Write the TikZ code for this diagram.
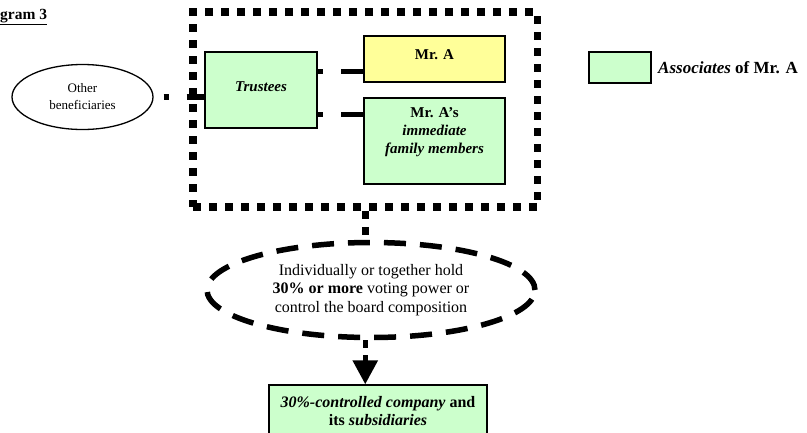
\documentclass[tikz,border=0pt]{standalone}
\usepackage{fontspec}
\setmainfont{Liberation Serif}
\usetikzlibrary{arrows.meta,shapes.geometric}
\definecolor{assocgreen}{HTML}{CCFFCC}
\definecolor{mrayellow}{HTML}{FFFF99}
\begin{document}
\begin{tikzpicture}[x=1pt,y=-1pt,
  box/.style={draw, line width=1.2pt, inner sep=0pt, rectangle},
  gbox/.style={box, fill=assocgreen},
  ybox/.style={box, fill=mrayellow},
  txt/.style={inner sep=0pt, align=center},
  groupframe/.style={draw, line width=7.5pt, dash pattern=on 8pt off 8pt, rectangle, inner sep=0pt},
  thickconn/.style={line width=5.5pt},
]
\useasboundingbox (0,0) rectangle (807,432);

% title
\node[anchor=base west, inner sep=0pt, font=\fontsize{15.5}{18}\selectfont\bfseries] (title) at (0,19) {\underline{gram 3}};

% dotted group frame
\node[groupframe, minimum width=344.5pt, minimum height=195pt] (grp) at (365.25,109.5) {};

% boxes
\node[gbox, minimum width=112pt, minimum height=76pt] (tr) at (261,90) {};
\node[txt, font=\fontsize{15}{18}\selectfont\bfseries\itshape] (trtxt) at (261,87) {Trustees};

\node[ybox, minimum width=141pt, minimum height=46pt] (mra) at (434.5,59) {};
\node[txt, font=\fontsize{15}{18}\selectfont\bfseries] (mratxt) at (434.5,55) {Mr. A};

\node[gbox, minimum width=141pt, minimum height=86pt] (fam) at (434.5,141) {};
\node[txt, font=\fontsize{15}{18}\selectfont\bfseries] (famtxt) at (434.5,132) {Mr. A’s\\ \textit{immediate}\\ \textit{family members}};

% other beneficiaries
\node[draw, ellipse, line width=1.3pt, inner sep=0pt, minimum width=141pt, minimum height=65pt,
      align=center, font=\fontsize{13}{17}\selectfont] (ob) at (82.5,97) {Other\\beneficiaries};

% legend
\node[gbox, minimum width=62pt, minimum height=31pt] (leg) at (620,67.5) {};
\node[anchor=west, inner sep=0pt, font=\fontsize{17}{20}\selectfont\bfseries] (legtxt) at (658,67.5) {\textit{Associates} of Mr. A};

% dashed ellipse
\node[draw, ellipse, line width=5.5pt, dash pattern=on 22pt off 14pt, inner sep=0pt,
      minimum width=328pt, minimum height=95pt, align=center,
      font=\fontsize{16}{18.5}\selectfont] (oval) at (371,290)
      {Individually or together hold\\ \textbf{30\% or more} voting power or\\ control the board composition};

% bottom box
\node[gbox, minimum width=218pt, minimum height=60pt] (bot) at (378,415) {};
\node[txt, font=\fontsize{16}{18}\selectfont\bfseries] (bottxt) at (378,411) {\textit{30\%-controlled company} and\\ its \textit{subsidiaries}};

% connectors
\draw[thickconn, dash pattern=on 0pt off 10pt on 5pt off 18pt on 30pt] (ob.east) -- (tr.west |- ob.east);
\draw[thickconn, dash pattern=on 5.7pt off 18pt on 30pt] (tr.east |- 0,71.5) -- (mra.west |- 0,71.5);
\draw[thickconn, dash pattern=on 5.7pt off 18pt on 30pt] (tr.east |- 0,114.5) -- (fam.west |- 0,114.5);
\draw[line width=7pt, dash pattern=on 8pt off 8pt] (grp.south) -- (grp.south |- oval.north);
\draw[thickconn, dash pattern=on 8pt off 7pt on 30pt, -{Triangle[length=24pt,width=24pt]}] (grp.south |- oval.south) -- (grp.south |- bot.north);
\end{tikzpicture}
\end{document}
